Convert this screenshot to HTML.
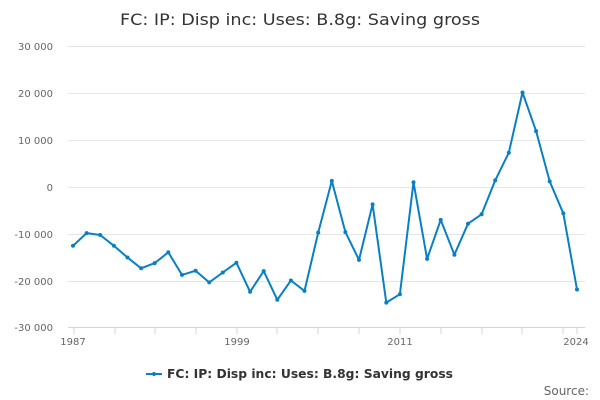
<!DOCTYPE html>
<html><head><meta charset="utf-8"><style>body{margin:0;background:#fff}svg{display:block;font-family:"DejaVu Sans",sans-serif}</style></head><body>
<svg width="600" height="400" viewBox="0 0 600 400" xmlns="http://www.w3.org/2000/svg">
<text x="300" y="25" text-anchor="middle" font-size="16" fill="#333" textLength="360" lengthAdjust="spacingAndGlyphs">FC: IP: Disp inc: Uses: B.8g: Saving gross</text>
<g stroke="#e6e6e6" stroke-width="1">
<line x1="68" x2="585" y1="46.5" y2="46.5"/><line x1="68" x2="585" y1="93.5" y2="93.5"/><line x1="68" x2="585" y1="140.5" y2="140.5"/><line x1="68" x2="585" y1="187.5" y2="187.5"/><line x1="68" x2="585" y1="234.5" y2="234.5"/><line x1="68" x2="585" y1="281.5" y2="281.5"/>
</g>
<line x1="68" x2="585" y1="327.5" y2="327.5" stroke="#ccd6eb"/>
<g stroke="#ccd6eb"><line x1="74" x2="74" y1="328" y2="334"/><line x1="115" x2="115" y1="328" y2="334"/><line x1="155" x2="155" y1="328" y2="334"/><line x1="196" x2="196" y1="328" y2="334"/><line x1="237" x2="237" y1="328" y2="334"/><line x1="277" x2="277" y1="328" y2="334"/><line x1="318" x2="318" y1="328" y2="334"/><line x1="359" x2="359" y1="328" y2="334"/><line x1="400" x2="400" y1="328" y2="334"/><line x1="441" x2="441" y1="328" y2="334"/><line x1="482" x2="482" y1="328" y2="334"/><line x1="522" x2="522" y1="328" y2="334"/><line x1="563" x2="563" y1="328" y2="334"/><line x1="577" x2="577" y1="328" y2="334"/></g>
<g font-size="10" fill="#666" text-anchor="end">
<text x="53" y="50">30 000</text><text x="53" y="97">20 000</text><text x="53" y="144">10 000</text><text x="53" y="191">0</text><text x="53" y="238">-10 000</text><text x="53" y="285">-20 000</text><text x="53" y="331">-30 000</text>
</g>
<g font-size="10" fill="#666" text-anchor="middle">
<text x="73" y="345">1987</text><text x="237" y="345">1999</text><text x="400" y="345">2011</text><text x="576" y="345">2024</text>
</g>
<polyline fill="none" stroke="#0a7fc1" stroke-width="2" stroke-linejoin="round" points="73,245.8 86.6,233.1 100.2,235 113.9,245.8 127.5,257.5 141.1,268.3 154.7,263.1 168.3,252.3 182,274.9 195.6,270.7 209.2,282.4 222.8,272.5 236.4,262.7 250.1,291.8 263.7,271.1 277.3,299.8 290.9,280.5 304.5,290.9 318.2,232.6 331.8,180.9 345.4,232.1 359,259.9 372.6,204.4 386.3,302.6 399.9,294.2 413.5,182.3 427.1,258.9 440.7,219.9 454.4,254.7 468,223.7 481.6,214.3 495.2,180.4 508.8,152.7 522.5,92.5 536.1,131.1 549.7,181.4 563.3,213.3 577,289.5"/>
<g fill="#0a7fc1"><circle cx="73" cy="245.8" r="2"/><circle cx="86.6" cy="233.1" r="2"/><circle cx="100.2" cy="235" r="2"/><circle cx="113.9" cy="245.8" r="2"/><circle cx="127.5" cy="257.5" r="2"/><circle cx="141.1" cy="268.3" r="2"/><circle cx="154.7" cy="263.1" r="2"/><circle cx="168.3" cy="252.3" r="2"/><circle cx="182" cy="274.9" r="2"/><circle cx="195.6" cy="270.7" r="2"/><circle cx="209.2" cy="282.4" r="2"/><circle cx="222.8" cy="272.5" r="2"/><circle cx="236.4" cy="262.7" r="2"/><circle cx="250.1" cy="291.8" r="2"/><circle cx="263.7" cy="271.1" r="2"/><circle cx="277.3" cy="299.8" r="2"/><circle cx="290.9" cy="280.5" r="2"/><circle cx="304.5" cy="290.9" r="2"/><circle cx="318.2" cy="232.6" r="2"/><circle cx="331.8" cy="180.9" r="2"/><circle cx="345.4" cy="232.1" r="2"/><circle cx="359" cy="259.9" r="2"/><circle cx="372.6" cy="204.4" r="2"/><circle cx="386.3" cy="302.6" r="2"/><circle cx="399.9" cy="294.2" r="2"/><circle cx="413.5" cy="182.3" r="2"/><circle cx="427.1" cy="258.9" r="2"/><circle cx="440.7" cy="219.9" r="2"/><circle cx="454.4" cy="254.7" r="2"/><circle cx="468" cy="223.7" r="2"/><circle cx="481.6" cy="214.3" r="2"/><circle cx="495.2" cy="180.4" r="2"/><circle cx="508.8" cy="152.7" r="2"/><circle cx="522.5" cy="92.5" r="2"/><circle cx="536.1" cy="131.1" r="2"/><circle cx="549.7" cy="181.4" r="2"/><circle cx="563.3" cy="213.3" r="2"/><circle cx="577" cy="289.5" r="2"/></g>
<line x1="146" x2="162" y1="374" y2="374" stroke="#0a7fc1" stroke-width="2"/><circle cx="154" cy="374" r="2" fill="#0a7fc1"/>
<text x="167" y="378" font-size="12" font-weight="bold" fill="#333" textLength="286" lengthAdjust="spacingAndGlyphs">FC: IP: Disp inc: Uses: B.8g: Saving gross</text>
<text x="589" y="395" font-size="12" fill="#666" text-anchor="end">Source:</text>
</svg>
</body></html>
